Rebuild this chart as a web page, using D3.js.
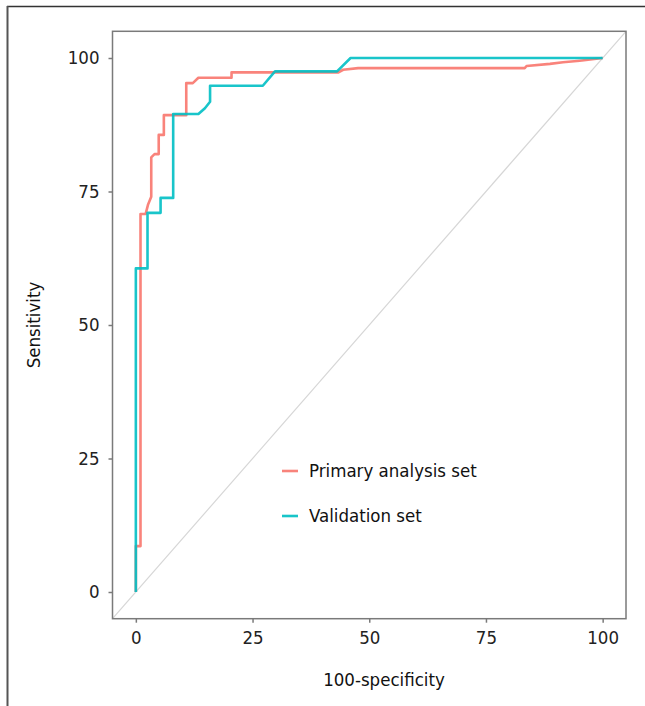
<!DOCTYPE html>
<html>
<head>
<meta charset="utf-8">
<script src="https://cdn.jsdelivr.net/npm/d3@7"></script>
<style>
  html, body { margin: 0; padding: 0; background: #fff; }
  svg { display: block; }
  text { font-family: "DejaVu Sans Condensed", "DejaVu Sans", sans-serif; font-stretch: condensed; }
</style>
</head>
<body>
<svg id="chart" width="645" height="706"></svg>
<script>
// ---- data ----
const seriesNames = ["Primary analysis set", "Validation set"];
const seriesColors = ["#F8766D", "#00BFC4"];
const primaryFPR = [0, 0, 1.0, 1.0, 2.1, 2.6, 3.3, 3.3, 4.0, 4.9, 4.9, 6.0, 6.0, 10.8, 10.8, 12.2, 13.4, 20.5, 20.5, 43.4, 44.4, 47.6, 83.3, 83.7, 88.7, 91.5, 95.1, 100];
const primaryTPR = [0, 8.6, 8.6, 70.8, 70.8, 72.5, 74.0, 81.4, 82.0, 82.0, 85.6, 85.6, 89.3, 89.3, 95.3, 95.3, 96.3, 96.3, 97.3, 97.3, 97.8, 98.1, 98.1, 98.5, 98.9, 99.2, 99.5, 100];
const validFPR = [0, 0, 2.5, 2.5, 5.3, 5.3, 8.0, 8.0, 13.4, 14.8, 15.9, 15.9, 27.2, 29.8, 43.1, 46.0, 100];
const validTPR = [0, 60.6, 60.6, 71.0, 71.0, 73.8, 73.8, 89.5, 89.5, 90.6, 91.8, 94.8, 94.8, 97.5, 97.5, 100, 100];
const xTicks = [0, 25, 50, 75, 100];
const yTicks = [0, 25, 50, 75, 100];
const xTitle = "100-specificity";
const yTitle = "Sensitivity";

const series = [
  { name: seriesNames[0], color: seriesColors[0], pts: primaryFPR.map((x, i) => [x, primaryTPR[i]]) },
  { name: seriesNames[1], color: seriesColors[1], pts: validFPR.map((x, i) => [x, validTPR[i]]) }
];

const svg = d3.select("#chart");
const FONT = "'DejaVu Sans Condensed', 'DejaVu Sans', sans-serif";
const FS = "18.5px";

// outer figure frame
svg.append("line").attr("x1", 7).attr("y1", 6.5).attr("x2", 645).attr("y2", 6.5)
  .attr("stroke", "#333").attr("stroke-width", 1.5);
svg.append("line").attr("x1", 7.5).attr("y1", 6).attr("x2", 7.5).attr("y2", 706)
  .attr("stroke", "#555").attr("stroke-width", 2);

const x = d3.scaleLinear().domain([-5, 105]).range([112.5, 626]);
const y = d3.scaleLinear().domain([-5, 105]).range([618.7, 31.3]);

// diagonal reference line
svg.append("line")
  .attr("x1", x(-5)).attr("y1", y(-5)).attr("x2", x(105)).attr("y2", y(105))
  .attr("stroke", "#d6d6d6").attr("stroke-width", 1.2);

// curves
const line = d3.line().x(d => x(d[0])).y(d => y(d[1]));
series.forEach(s => {
  svg.append("path").datum(s.pts)
    .attr("d", line)
    .attr("fill", "none")
    .attr("stroke", s.color)
    .attr("stroke-width", 2.6)
    .attr("stroke-linejoin", "round")
    .attr("opacity", 0.9);
});

// panel border
svg.append("rect")
  .attr("x", x(-5)).attr("y", y(105))
  .attr("width", x(105) - x(-5)).attr("height", y(-5) - y(105))
  .attr("fill", "none").attr("stroke", "#7a7a7a").attr("stroke-width", 1.5);

// axes
const xAxis = d3.axisBottom(x).tickValues(xTicks).tickSize(4).tickPadding(8);
const yAxis = d3.axisLeft(y).tickValues(yTicks).tickSize(4).tickPadding(9);
const gx = svg.append("g").attr("transform", `translate(0,${y(-5)})`).call(xAxis);
const gy = svg.append("g").attr("transform", `translate(${x(-5)},0)`).call(yAxis);
[gx, gy].forEach(g => {
  g.select(".domain").remove();
  g.selectAll(".tick line").attr("stroke", "#7a7a7a").attr("stroke-width", 1.5);
  g.selectAll(".tick text").attr("fill", "#222").style("font-size", FS)
    .style("font-family", FONT);
});

// axis titles
svg.append("text").attr("x", 384).attr("y", 686).attr("text-anchor", "middle")
  .attr("fill", "#111").style("font-size", FS).text(xTitle);
svg.append("text").attr("transform", `translate(40,${(y(-5) + y(105)) / 2}) rotate(-90)`)
  .attr("text-anchor", "middle").attr("fill", "#111").style("font-size", FS).text(yTitle);

// legend
const legY = [471, 516];
series.forEach((s, i) => {
  svg.append("line").attr("x1", 282).attr("x2", 298)
    .attr("y1", legY[i]).attr("y2", legY[i])
    .attr("stroke", s.color).attr("stroke-width", 2.6).attr("opacity", 0.9);
  svg.append("text").attr("x", 309).attr("y", legY[i]).attr("dy", "0.35em")
    .attr("fill", "#111").style("font-size", FS).text(s.name);
});
</script>
</body>
</html>
